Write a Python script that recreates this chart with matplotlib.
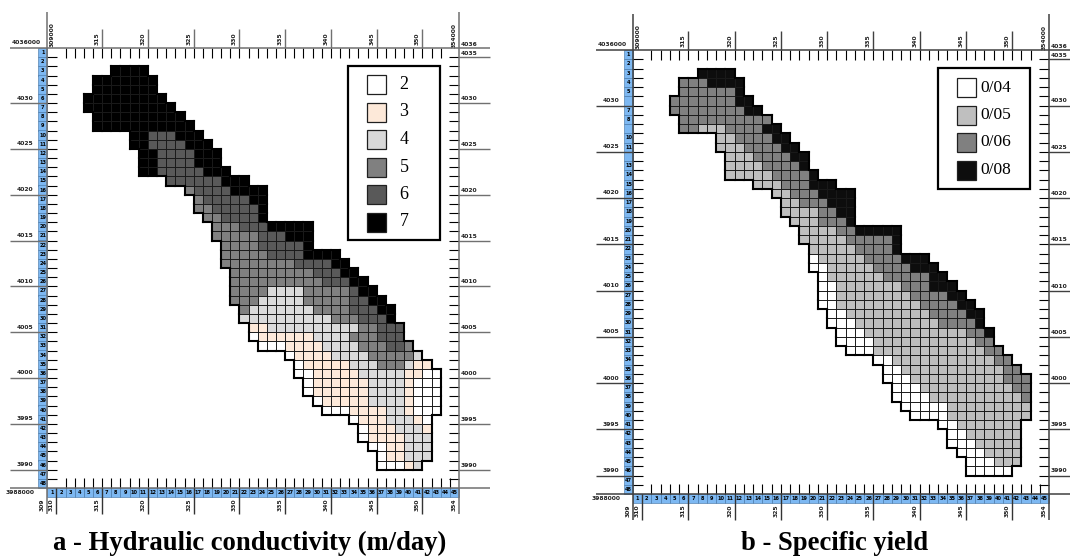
import numpy as np
import matplotlib
matplotlib.use("Agg")
import matplotlib.pyplot as plt
from matplotlib.collections import LineCollection
from matplotlib.colors import ListedColormap, BoundaryNorm
from matplotlib.patches import Rectangle
from matplotlib.transforms import Affine2D

W, H = 1070, 556

# Each grid row: row number -> (first column, [(value, last column), ...])
K_ROWS = {
    3: (8, [(7, 11)]), 4: (6, [(7, 12)]), 5: (6, [(7, 12)]), 6: (5, [(7, 13)]),
    7: (5, [(7, 14)]), 8: (6, [(7, 15)]), 9: (6, [(7, 16)]),
    10: (10, [(7, 11), (6, 14), (7, 17)]), 11: (10, [(7, 11), (6, 15), (7, 18)]),
    12: (11, [(7, 12), (6, 16), (7, 19)]), 13: (11, [(7, 12), (6, 16), (7, 19)]),
    14: (11, [(7, 12), (6, 17), (7, 20)]), 15: (14, [(6, 19), (7, 22)]),
    16: (16, [(5, 16), (6, 20), (7, 24)]), 17: (17, [(5, 17), (6, 22), (7, 24)]),
    18: (17, [(5, 18), (6, 23), (7, 24)]), 19: (18, [(5, 19), (6, 23), (7, 24)]),
    20: (19, [(5, 21), (6, 24), (7, 29)]), 21: (19, [(5, 23), (6, 26), (7, 29)]),
    22: (20, [(5, 23), (6, 28), (7, 29)]), 23: (20, [(5, 24), (6, 28), (7, 32)]),
    24: (20, [(5, 27), (6, 31), (7, 33)]), 25: (21, [(5, 29), (6, 32), (7, 34)]),
    26: (21, [(5, 30), (6, 33), (7, 35)]),
    27: (21, [(5, 24), (4, 28), (5, 33), (6, 34), (7, 36)]),
    28: (21, [(5, 23), (4, 28), (5, 33), (6, 35), (7, 37)]),
    29: (22, [(5, 22), (4, 29), (5, 33), (6, 36), (7, 38)]),
    30: (22, [(4, 31), (5, 34), (6, 37), (7, 38)]),
    31: (23, [(3, 24), (4, 34), (5, 36), (6, 39)]),
    32: (23, [(2, 23), (3, 29), (4, 33), (5, 36), (6, 39)]),
    33: (24, [(2, 26), (3, 30), (4, 34), (5, 37), (6, 39), (5, 40)]),
    34: (27, [(2, 27), (3, 31), (4, 35), (5, 40), (4, 41)]),
    35: (28, [(2, 28), (3, 33), (4, 36), (5, 39), (4, 40), (3, 42)]),
    36: (28, [(2, 29), (3, 34), (4, 39), (3, 41), (2, 43)]),
    37: (29, [(2, 29), (3, 35), (4, 39), (3, 40), (2, 43)]),
    38: (29, [(2, 29), (3, 35), (4, 39), (3, 40), (2, 43)]),
    39: (30, [(2, 30), (3, 35), (4, 39), (3, 40), (2, 43)]),
    40: (31, [(2, 33), (3, 37), (4, 39), (3, 40), (2, 43)]),
    41: (34, [(2, 34), (3, 37), (4, 40), (3, 41), (2, 42)]),
    42: (35, [(2, 35), (3, 38), (4, 41), (3, 42)]),
    43: (35, [(2, 35), (3, 39), (4, 42)]),
    44: (36, [(2, 37), (3, 39), (4, 42)]),
    45: (37, [(2, 37), (3, 39), (4, 42)]),
    46: (37, [(2, 39), (3, 40), (4, 41)]),
}
SY_ROWS = {
    3: (8, [(8, 11)]), 4: (6, [(6, 8), (8, 12)]), 5: (6, [(6, 11), (8, 12)]),
    6: (5, [(6, 11), (8, 13)]), 7: (5, [(6, 12), (8, 14)]), 8: (6, [(6, 15)]),
    9: (6, [(6, 7), (5, 10), (6, 14), (8, 16)]),
    10: (10, [(5, 11), (6, 15), (8, 17)]), 11: (10, [(5, 12), (6, 16), (8, 18)]),
    12: (11, [(5, 13), (6, 17), (8, 19)]), 13: (11, [(5, 14), (6, 18), (8, 19)]),
    14: (11, [(5, 15), (6, 19), (8, 20)]), 15: (14, [(5, 16), (6, 19), (8, 22)]),
    16: (16, [(5, 17), (6, 20), (8, 24)]), 17: (17, [(5, 18), (6, 21), (8, 24)]),
    18: (17, [(5, 20), (6, 22), (8, 24)]), 19: (18, [(5, 20), (6, 23), (8, 24)]),
    20: (19, [(5, 22), (6, 24), (8, 29)]), 21: (19, [(5, 23), (6, 28), (8, 29)]),
    22: (20, [(5, 24), (6, 28), (8, 29)]),
    23: (20, [(4, 20), (5, 25), (6, 29), (8, 32)]),
    24: (20, [(4, 21), (5, 26), (6, 30), (8, 33)]),
    25: (21, [(4, 21), (5, 27), (6, 32), (8, 34)]),
    26: (21, [(4, 22), (5, 29), (6, 32), (8, 35)]),
    27: (21, [(4, 22), (5, 30), (6, 34), (8, 36)]),
    28: (21, [(4, 22), (5, 31), (6, 35), (8, 37)]),
    29: (22, [(4, 23), (5, 32), (6, 36), (8, 38)]),
    30: (22, [(4, 24), (5, 33), (6, 37), (8, 38)]),
    31: (23, [(4, 25), (5, 36), (6, 38), (8, 39)]),
    32: (23, [(4, 26), (5, 37), (6, 39)]),
    33: (24, [(4, 26), (5, 38), (6, 40)]),
    34: (27, [(4, 28), (5, 39), (6, 41)]),
    35: (28, [(4, 29), (5, 40), (6, 42)]),
    36: (28, [(4, 30), (5, 40), (6, 43)]),
    37: (29, [(4, 31), (5, 41), (6, 43)]),
    38: (29, [(4, 32), (5, 42), (6, 43)]),
    39: (30, [(4, 34), (5, 43)]), 40: (31, [(4, 34), (5, 43)]),
    41: (34, [(4, 35), (5, 42)]), 42: (35, [(4, 36), (5, 42)]),
    43: (35, [(4, 37), (5, 42)]), 44: (36, [(4, 38), (5, 42)]),
    45: (37, [(4, 39), (5, 42)]), 46: (37, [(4, 41)]),
}
K_LEVELS = [2, 3, 4, 5, 6, 7]
K_LABELS = ["2", "3", "4", "5", "6", "7"]
K_COLORS = ["#ffffff", "#fde9d9", "#d9d9d9", "#808080", "#595959", "#000000"]
SY_LEVELS = [4, 5, 6, 8]
SY_LABELS = ["0/04", "0/05", "0/06", "0/08"]
SY_COLORS = ["#ffffff", "#bfbfbf", "#808080", "#0d0d0d"]
TITLE_A = "a - Hydraulic conductivity (m/day)"
TITLE_B = "b - Specific yield"
X_KM = np.arange(309, 355)
Y_KM = np.arange(3988, 4037)
X_MAJOR = [315, 320, 325, 330, 335, 340, 345, 350]
Y_MAJOR = [4030, 4025, 4020, 4015, 4010, 4005, 4000, 3995, 3990]

fig = plt.figure(figsize=(W / 100, H / 100), dpi=100, facecolor="white")
PX = Affine2D().scale(1 / W, -1 / H).translate(0, 1) + fig.transFigure
SMALL = dict(family="DejaVu Sans", fontweight="bold", fontsize=4.3, color="#222222")


def grid_from(rows):
    g = np.full((48, 45), np.nan)
    for r, (start, runs) in rows.items():
        c = start
        for val, last in runs:
            g[r - 1, c - 1:last] = val
            c = last + 1
    return g


def edges(g):
    """Inner cell lines and outer boundary of the occupied cells."""
    inner, outer = [], []
    m = ~np.isnan(g)
    for i in range(48):
        for j in range(45):
            if not m[i, j]:
                continue
            x, y = X_KM[j], Y_KM[-1] - i
            sides = [(m[i - 1, j], [(x, y), (x + 1, y)]),
                     (m[i + 1, j], [(x, y - 1), (x + 1, y - 1)]),
                     (m[i, j - 1], [(x, y), (x, y - 1)]),
                     (m[i, j + 1], [(x + 1, y), (x + 1, y - 1)])]
            for has_neighbour, seg in sides:
                (inner if has_neighbour else outer).append(seg)
    return inner, outer


def panel(x0, x1, y0, y1, rows, levels, colors, axis_col, skip_rows=()):
    ax = fig.add_axes([x0 / W, 1 - y1 / H, (x1 - x0) / W, (y1 - y0) / H])
    ax.set_xlim(X_KM[0], X_KM[-1])
    ax.set_ylim(Y_KM[0], Y_KM[-1])
    ax.axis("off")
    kx = (x1 - x0) / 45
    ky = (y1 - y0) / 48
    dx = lambda p: p / kx
    dy = lambda p: p / ky

    g = grid_from(rows)
    bounds = [levels[0] - 0.5] + [v + 0.5 for v in levels]
    ax.pcolormesh(X_KM, Y_KM[::-1], np.ma.masked_invalid(g),
                  cmap=ListedColormap(colors),
                  norm=BoundaryNorm(bounds, len(colors)), edgecolors="none")
    inner, outer = edges(g)
    ax.add_collection(LineCollection(inner, colors="#1a1a1a", linewidths=0.6, zorder=2))
    ax.add_collection(LineCollection(outer, colors="black", linewidths=1.5,
                                     capstyle="projecting", zorder=3))

    xl, xr = X_KM[0], X_KM[-1]
    yb, yt = Y_KM[0], Y_KM[-1]
    long_l, long_r = dx(37), dx(31)
    tk = dict(clip_on=False, zorder=4)
    # strips
    for c in range(1, 46):
        ax.add_patch(Rectangle((xl + c - 1, yb - dy(9)), 1, dy(9), fc="#7db8f2",
                               ec="#3f6f9f", lw=0.4, **tk))
        ax.text(xl + c - 0.5, yb - dy(4.5), str(c), ha="center", va="center",
                clip_on=False, zorder=5, **{**SMALL, "fontsize": 3.6, "color": "black"})
    for r in range(1, 49):
        ax.add_patch(Rectangle((xl - dx(9), yt - r), dx(9), 1, fc="#7db8f2",
                               ec="#3f6f9f", lw=0.4, **tk))
        if r not in skip_rows:
            ax.text(xl - dx(4.5), yt - r + 0.5, str(r), ha="center", va="center",
                    clip_on=False, zorder=5, **{**SMALL, "fontsize": 3.6, "color": "black"})
    # small ticks
    ax.vlines(X_KM[2:-2], yt - dy(10), yt, color="black", lw=0.8, **tk)
    ax.vlines(X_KM[2:-1], yb, yb + dy(10), color="black", lw=0.8, **tk)
    ax.hlines(Y_KM[1:-1], xl, xl + dx(10), color="black", lw=0.8, **tk)
    ax.hlines(Y_KM[1:-1], xr - dx(10), xr, color="black", lw=0.8, **tk)
    # axis frame
    ax.hlines([yb, yt], xl - long_l, xr + long_r, color=axis_col, lw=1.1, **tk)
    ax.vlines([xl, xr], yb - dy(26), yt + dy(36), color=axis_col, lw=1.1, **tk)
    # major ticks
    ax.vlines(X_MAJOR, yt, yt + dy(19), color=axis_col, lw=1.0, **tk)
    ax.vlines(X_MAJOR + [310], yb - dy(26), yb, color="#333333", lw=1.0, **tk)
    ax.hlines(Y_MAJOR, xl - long_l, xl, color=axis_col, lw=1.0, **tk)
    ax.hlines(Y_MAJOR + [4035], xr, xr + long_r, color=axis_col, lw=1.0, **tk)
    # labels
    for v in X_MAJOR + [310, 354, 309]:
        ax.text(v - dx(5), yb - dy(17), str(v), rotation=90, ha="center", va="center",
                clip_on=False, **SMALL)
    for v in X_MAJOR:
        ax.text(v - dx(5), yt + dy(9), str(v), rotation=90, ha="center", va="center",
                clip_on=False, **SMALL)
    ax.text(xl + dx(5), yt + dy(13), "309000", rotation=90, ha="center", va="center",
            clip_on=False, **SMALL)
    ax.text(xr - dx(5), yt + dy(13), "354000", rotation=90, ha="center", va="center",
            clip_on=False, **SMALL)
    for v in Y_MAJOR:
        ax.text(xl - dx(22), v + dy(5), str(v), ha="center", va="center",
                clip_on=False, **SMALL)
        ax.text(xr + dx(10), v + dy(4.5), str(v), ha="center", va="center",
                clip_on=False, **SMALL)
    ax.text(xr + dx(10), 4035 + dy(3.5), "4035", ha="center", va="center",
            clip_on=False, **SMALL)
    ax.text(xr + dx(10), yt + dy(4), "4036", ha="center", va="center",
            clip_on=False, **SMALL)
    ax.text(xl - dx(21), yt + dy(5), "4036000", ha="center", va="center",
            clip_on=False, **SMALL)
    ax.text(xl - dx(27), yb - dy(5), "3988000", ha="center", va="center",
            clip_on=False, **SMALL)
    return ax


def legend(box, sw_x, sw_centers, text_x, labels, colors, fs, ha):
    fig.add_artist(Rectangle((box[0], box[1]), box[2] - box[0], box[3] - box[1],
                             transform=PX, fc="white", ec="black", lw=1.6, zorder=6))
    for yc, lab, col in zip(sw_centers, labels, colors):
        fig.add_artist(Rectangle((sw_x, yc - 9.5), 19, 19, transform=PX, fc=col,
                                 ec="#202020", lw=0.9, zorder=7))
        fig.text(text_x, yc, lab, transform=PX, family="Liberation Serif", fontsize=fs,
                 ha=ha, va="center", color="black", zorder=7)


panel(47.3, 459, 48, 488, K_ROWS, K_LEVELS, K_COLORS, "#707070")
panel(633, 1049, 50, 494, SY_ROWS, SY_LEVELS, SY_COLORS, "#404040", skip_rows=(6, 9, 12))

legend((348, 66, 440, 240), 367, [84.5, 112, 139.5, 167, 194.5, 222], 404,
       K_LABELS, K_COLORS, 13, "center")
legend((937.5, 68, 1030, 189), 956.5, [87.5, 115, 142.5, 170], 980,
       SY_LABELS, SY_COLORS, 12.5, "left")

fig.text(250, 550, TITLE_A, transform=PX, family="Liberation Serif", fontweight="bold",
         fontsize=19.2, ha="center", va="baseline", color="black")
fig.text(835, 550, TITLE_B, transform=PX, family="Liberation Serif", fontweight="bold",
         fontsize=19.2, ha="center", va="baseline", color="black")

fig.savefig("out.png", dpi=100)
